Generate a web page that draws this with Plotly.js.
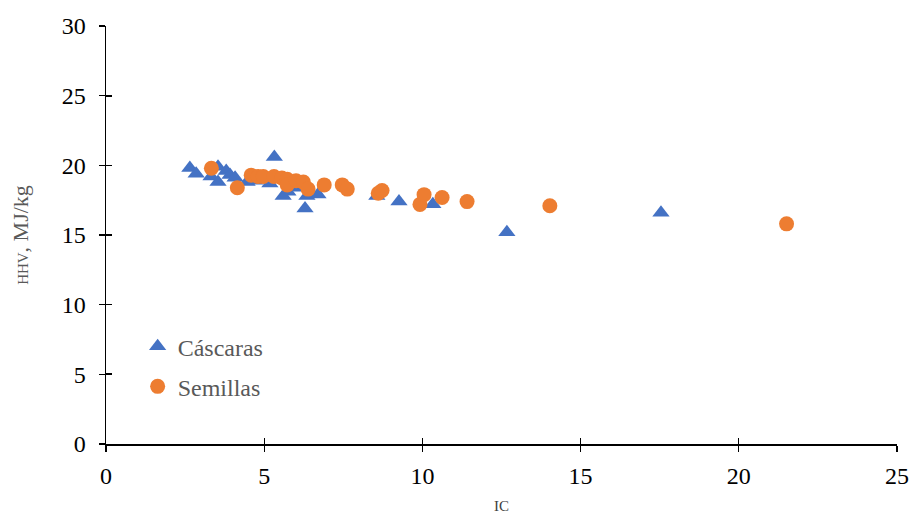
<!DOCTYPE html>
<html>
<head>
<meta charset="utf-8">
<script src="https://cdn.plot.ly/plotly-3.0.1.min.js"></script>
<style>html,body{margin:0;padding:0;background:#fff;}#chart{width:912px;height:518px;}</style>
</head>
<body>
<div id="chart"></div>
<script>
// Cáscaras (shells)
const cascarasIC  = [2.65, 2.85, 3.32, 3.54, 3.54, 3.80, 3.92, 4.08, 4.46, 4.70, 5.18, 5.32, 5.60, 5.75, 6.07, 6.29, 6.35, 6.70, 8.56, 9.26, 10.33, 12.67, 17.54];
const cascarasHHV = [19.8, 19.4, 19.2, 18.8, 19.9, 19.6, 19.3, 19.1, 18.8, 18.9, 18.7, 20.6, 17.8, 18.1, 18.4, 16.9, 17.8, 17.9, 17.8, 17.4, 17.2, 15.2, 16.6];
// Semillas (seeds)
const semillasIC  = [3.32, 4.14, 4.58, 4.80, 4.96, 5.30, 5.55, 5.72, 5.72, 6.00, 6.23, 6.38, 6.89, 7.46, 7.62, 8.60, 8.72, 9.92, 10.05, 10.62, 11.41, 14.03, 21.52];
const semillasHHV = [19.8, 18.4, 19.3, 19.2, 19.2, 19.2, 19.1, 19.0, 18.6, 18.9, 18.8, 18.3, 18.6, 18.6, 18.3, 18.0, 18.2, 17.2, 17.9, 17.7, 17.4, 17.1, 15.8];

const seriesNames = ['Cáscaras', 'Semillas'];
const xTitle = 'IC';
const yTitle = '\u00a0\u00a0\u00a0\u00a0\u00a0\u00a0\u00a0<span style="font-size:15px">HHV</span>, MJ/kg';

const FONT = 'Times New Roman';

const traces = [
  {x: cascarasIC, y: cascarasHHV, type: 'scatter', mode: 'markers', name: seriesNames[0], legendgroup: 'a',
   marker: {symbol: 'triangle-up', size: 15, color: '#4472C4'}},
  {x: semillasIC, y: semillasHHV, xaxis: 'x2', yaxis: 'y2', type: 'scatter', mode: 'markers', name: seriesNames[1], legendgroup: 'b',
   marker: {symbol: 'circle', size: 15, color: '#ED7D31'}}
];

const axCommon = {
  showgrid: false, zeroline: false, showline: true, linecolor: '#000', linewidth: 1.5,
  ticks: 'outside', ticklen: 6, tickwidth: 1.3, tickcolor: '#000',
  tickfont: {family: FONT, size: 24, color: '#000'}, dtick: 5, tick0: 0
};

const layout = {
  width: 912, height: 518,
  font: {family: FONT},
  margin: {l: 106, r: 15, t: 26, b: 74},
  paper_bgcolor: '#fff', plot_bgcolor: '#fff',
  showlegend: true,
  legend: {x: 0.040, y: 0.287, xanchor: 'left', yanchor: 'top', bgcolor: 'rgba(0,0,0,0)',
           font: {family: FONT, size: 24, color: '#595959'}, tracegroupgap: 6, itemwidth: 30},
  xaxis: Object.assign({}, axCommon, {range: [0, 25], ticklabelstandoff: 4,
    title: {text: xTitle, font: {family: FONT, size: 15, color: '#404040'}, standoff: 12}}),
  yaxis: Object.assign({}, axCommon, {range: [0, 30], ticklabelstandoff: 8,
    title: {text: yTitle, font: {family: FONT, size: 22, color: '#595959'}, standoff: 27}}),
  xaxis2: {overlaying: 'x', anchor: 'y2', range: [-0.015, 25.015], dtick: 5, tick0: 0, ticks: 'inside', ticklen: 6, tickwidth: 1.3, tickcolor: '#000',
    showticklabels: false, showgrid: false, zeroline: false, showline: false, side: 'bottom'},
  yaxis2: {overlaying: 'y', anchor: 'x2', range: [-0.02, 30.02], dtick: 5, tick0: 0, ticks: 'inside', ticklen: 6, tickwidth: 1.3, tickcolor: '#000',
    showticklabels: false, showgrid: false, zeroline: false, showline: false, side: 'left'}
};

Plotly.newPlot('chart', traces, layout, {staticPlot: true, displayModeBar: false});
</script>
</body>
</html>
